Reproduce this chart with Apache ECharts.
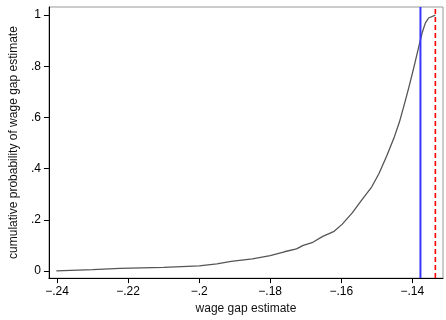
<!DOCTYPE html>
<html>
<head>
<meta charset="utf-8">
<script src="https://cdn.jsdelivr.net/npm/echarts@6/dist/echarts.min.js"></script>
<style>html,body{margin:0;padding:0;background:#fff;}#c{width:446px;height:320px;}</style>
</head>
<body>
<div id="c"></div>
<script>
var wageGap = [-0.2402, -0.2300, -0.2223, -0.2100, -0.2000, -0.1950, -0.1910, -0.1850, -0.1800, -0.1760, -0.1726, -0.1707, -0.1680, -0.1652, -0.1620, -0.1597, -0.1569, -0.1542, -0.1514, -0.1494, -0.1472, -0.1450, -0.1436, -0.1422, -0.1410, -0.1395, -0.1381, -0.1372, -0.1363, -0.1354, -0.1335];
var cumProb = [0.000, 0.005, 0.010, 0.014, 0.020, 0.028, 0.037, 0.047, 0.060, 0.075, 0.086, 0.100, 0.112, 0.135, 0.155, 0.183, 0.227, 0.278, 0.329, 0.380, 0.449, 0.526, 0.583, 0.653, 0.716, 0.799, 0.881, 0.932, 0.970, 0.989, 1.000];
var xTicks = [-0.24, -0.22, -0.20, -0.18, -0.16, -0.14];
var yTicks = [0, 0.2, 0.4, 0.6, 0.8, 1];
var blueLineX = -0.1377;
var redLineX = -0.1335;

var xMin = -0.2423, xMax = -0.13135, yMin = -0.028, yMax = 1.032;
function fmt(v) {
  var s = (Math.round(Math.abs(v) * 100) / 100).toString();
  if (s.indexOf('0.') === 0) s = s.substring(1);
  return (v < -1e-9 ? '\u2212' : '') + s;
}
var font = 'Liberation Sans, Arial, sans-serif';
var chart = echarts.init(document.getElementById('c'), null, {renderer: 'canvas'});
chart.setOption({
  animation: false,
  backgroundColor: '#fff',
  grid: {left: 41, right: 3, top: 7, bottom: 35, show: true, borderColor: '#999', borderWidth: 1, backgroundColor: '#fff'},
  xAxis: {
    type: 'value', min: xMin, max: xMax,
    name: 'wage gap estimate', nameLocation: 'middle', nameGap: 21,
    nameTextStyle: {color: '#111', fontSize: 12, fontFamily: font},
    axisLine: {show: true, onZero: false, lineStyle: {color: '#000', width: 1}},
    axisTick: {show: true, length: 5, customValues: xTicks, lineStyle: {color: '#000'}},
    axisLabel: {customValues: xTicks, formatter: fmt, color: '#000', fontSize: 12, fontFamily: font, margin: 8},
    splitLine: {show: false}
  },
  yAxis: {
    type: 'value', min: yMin, max: yMax,
    name: 'cumulative probability of wage gap estimate', nameLocation: 'middle', nameGap: 20,
    nameTextStyle: {color: '#111', fontSize: 12, fontFamily: font},
    axisLine: {show: true, onZero: false, lineStyle: {color: '#000', width: 1}},
    axisTick: {show: true, length: 5, customValues: yTicks, lineStyle: {color: '#000'}},
    axisLabel: {customValues: yTicks, formatter: fmt, color: '#000', fontSize: 12, fontFamily: font, margin: 8},
    splitLine: {show: false}
  },
  series: [{
    type: 'line',
    data: wageGap.map(function (x, i) { return [x, cumProb[i]]; }),
    showSymbol: false,
    lineStyle: {color: '#555', width: 1.3},
    z: 2
  }, {
    type: 'line',
    data: [[blueLineX, yMin], [blueLineX, yMax]],
    showSymbol: false,
    lineStyle: {color: '#3636ff', width: 2},
    z: 3
  }, {
    type: 'line',
    data: [[redLineX, yMin], [redLineX, yMax]],
    showSymbol: false,
    lineStyle: {color: '#ff0000', width: 1.6, type: [5, 3]},
    z: 3
  }]
});
</script>
</body>
</html>
